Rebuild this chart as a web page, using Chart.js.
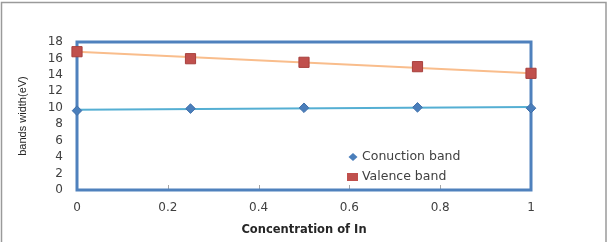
<!DOCTYPE html>
<html>
<head>
<meta charset="utf-8">
<script src="https://cdn.jsdelivr.net/npm/chart.js@4.4.1/dist/chart.umd.min.js"></script>
<style>
  html, body { margin: 0; padding: 0; background: #ffffff; }
  #wrap { width: 614px; height: 242px; position: relative; }
</style>
</head>
<body>
<div id="wrap"><canvas id="c" width="614" height="242"></canvas></div>
<script>
const concentration = [0, 0.25, 0.5, 0.75, 1];
const conductionBand = [9.65, 9.9, 10.0, 10.05, 9.95];
const valenceBand = [16.82, 15.97, 15.53, 15.0, 14.19];
const trendX = [0, 1];
const conductionTrend = [9.75, 10.1];
const valenceTrend = [16.8, 14.2];
const xTicks = [0, 0.2, 0.4, 0.6, 0.8, 1];
const yTicks = [0, 2, 4, 6, 8, 10, 12, 14, 16, 18];
const seriesNames = ['Conuction band', 'Valence band'];
const xTitle = 'Concentration of In';
const yTitle = 'bands width(eV)';

const toPts = (xs, ys) => xs.map((x, i) => ({x: x, y: ys[i]}));

const frameAndBorder = {
  id: 'frameAndBorder',
  beforeDatasetsDraw(chart) {
    const {ctx, chartArea: a, scales} = chart;
    ctx.save();
    ctx.strokeStyle = '#a6a6a6';
    ctx.lineWidth = 1;
    xTicks.forEach(v => {
      if (v === 0 || v === 1) return;
      const px = Math.round(scales.x.getPixelForValue(v)) + 0.5;
      ctx.beginPath();
      ctx.moveTo(px, a.bottom - 5);
      ctx.lineTo(px, a.bottom);
      ctx.stroke();
    });
    ctx.strokeStyle = '#4f81bd';
    ctx.lineWidth = 3;
    ctx.strokeRect(a.left, a.top, a.right - a.left, a.bottom - a.top);
    ctx.restore();
  },
  afterDraw(chart) {
    const {ctx} = chart;
    ctx.save();
    ctx.strokeStyle = '#9a9a9a';
    ctx.lineWidth = 1.5;
    ctx.beginPath();
    ctx.moveTo(1.5, 242);
    ctx.lineTo(1.5, 2.5);
    ctx.lineTo(606, 2.5);
    ctx.lineTo(606, 242);
    ctx.stroke();
    const ds = chart.data.datasets;
    ctx.font = '12.5px "DejaVu Sans"';
    ctx.textBaseline = 'middle';
    ctx.textAlign = 'left';
    const dx = 353, dy = 157;
    ctx.fillStyle = ds[0].backgroundColor;
    ctx.beginPath();
    ctx.moveTo(dx - 4.5, dy);
    ctx.lineTo(dx, dy - 4);
    ctx.lineTo(dx + 4.5, dy);
    ctx.lineTo(dx, dy + 4);
    ctx.closePath();
    ctx.fill();
    ctx.fillStyle = '#404040';
    ctx.fillText(ds[0].label, 362, dy);
    const sy = 177;
    ctx.fillStyle = ds[1].backgroundColor;
    ctx.fillRect(347, sy - 4, 11, 8);
    ctx.fillStyle = '#404040';
    ctx.fillText(ds[1].label, 362, sy);
    ctx.restore();
  }
};

new Chart(document.getElementById('c'), {
  type: 'scatter',
  data: {
    datasets: [
      {
        label: seriesNames[0],
        data: toPts(concentration, conductionBand),
        showLine: false,
        pointStyle: 'rectRot',
        pointRadius: 4.8,
        backgroundColor: '#4a7ebb',
        borderColor: '#3f70aa',
        borderWidth: 1,
        clip: false
      },
      {
        label: seriesNames[1],
        data: toPts(concentration, valenceBand),
        showLine: false,
        pointStyle: 'rect',
        pointRadius: 7.2,
        backgroundColor: '#c0504d',
        borderColor: '#a8403d',
        borderWidth: 1,
        clip: false
      },
      {
        label: 'conduction trend',
        data: toPts(trendX, conductionTrend),
        showLine: true,
        pointRadius: 0,
        borderColor: '#55afd3',
        borderWidth: 2,
        fill: false,
        clip: false
      },
      {
        label: 'valence trend',
        data: toPts(trendX, valenceTrend),
        showLine: true,
        pointRadius: 0,
        borderColor: '#f9bd8c',
        borderWidth: 2,
        fill: false,
        clip: false
      }
    ]
  },
  options: {
    responsive: false,
    animation: false,
    events: [],
    layout: { padding: { left: 0, top: 42, right: 83, bottom: 0 } },
    plugins: { legend: { display: false }, tooltip: { enabled: false } },
    scales: {
      x: {
        type: 'linear',
        min: 0,
        max: 1,
        afterBuildTicks(scale) { scale.ticks = xTicks.map(v => ({value: v})); },
        afterFit(scale) { scale.height = 52; },
        grid: { display: false, drawTicks: false },
        border: { display: false },
        ticks: {
          autoSkip: false,
          padding: 11,
          color: '#404040',
          font: { family: 'DejaVu Sans', size: 12 },
          maxRotation: 0,
          callback: v => String(v)
        },
        title: {
          display: true,
          text: xTitle,
          color: '#262626',
          font: { family: 'DejaVu Sans', size: 11.5, weight: 'bold' },
          padding: { top: 0, bottom: 5 }
        }
      },
      y: {
        type: 'linear',
        min: 0,
        max: 18,
        afterBuildTicks(scale) { scale.ticks = yTicks.map(v => ({value: v})); },
        afterFit(scale) { scale.width = 77; },
        grid: { display: false, drawTicks: false },
        border: { display: false },
        ticks: {
          autoSkip: false,
          padding: 14,
          color: '#404040',
          font: { family: 'DejaVu Sans', size: 12 },
          callback: v => String(v)
        },
        title: {
          display: true,
          text: yTitle,
          color: '#262626',
          font: { family: 'Liberation Sans', size: 11 },
          padding: { top: 16, bottom: 0 }
        }
      }
    }
  },
  plugins: [frameAndBorder]
});
</script>
</body>
</html>
